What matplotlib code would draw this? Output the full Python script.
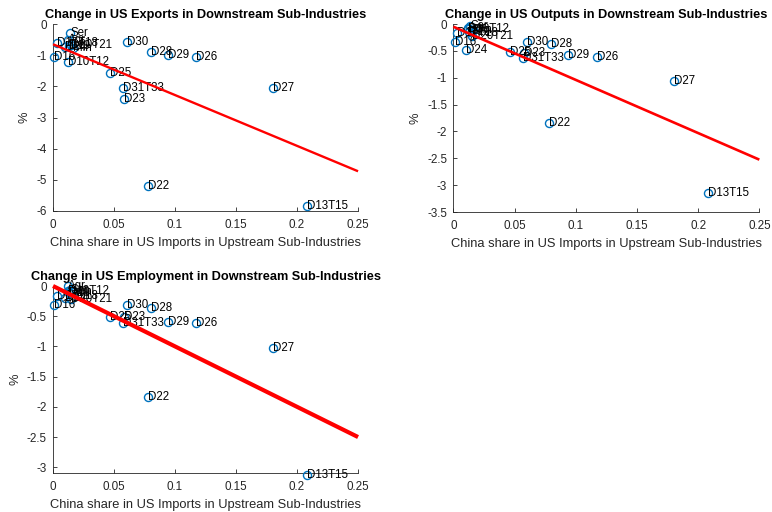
import numpy as np
import matplotlib
matplotlib.use("Agg")
import matplotlib.pyplot as plt
from matplotlib.ticker import FuncFormatter

plt.rcParams["font.family"] = ["Liberation Sans", "DejaVu Sans"]
plt.rcParams["axes.unicode_minus"] = False

# Sub-industry labels and China's share in US imports of their upstream inputs
labels = ["Agr", "Min", "Ser", "D10T12", "D13T15", "D16", "D17T18", "D19",
          "D20T21", "D22", "D23", "D24", "D25", "D26", "D27", "D28", "D29",
          "D30", "D31T33"]
china_share = [0.012, 0.016, 0.014, 0.012, 0.208, 0.001, 0.003, 0.013,
               0.015, 0.078, 0.058, 0.010, 0.0466, 0.117, 0.180, 0.080,
               0.094, 0.0603, 0.057]

# Percentage changes for the downstream sub-industries
exports_change = [-0.52, -0.78, -0.30, -1.22, -5.83, -1.07, -0.62, -0.70,
                  -0.68, -5.21, -2.42, -0.75, -1.58, -1.05, -2.04, -0.91,
                  -0.99, -0.59, -2.04]
outputs_change = [-0.07, -0.12, -0.03, -0.10, -3.15, -0.34, -0.17, -0.14,
                  -0.22, -1.84, -0.54, -0.48, -0.53, -0.61, -1.06, -0.38,
                  -0.58, -0.34, -0.64]
employment_change = [0.00, -0.10, -0.06, -0.08, -3.12, -0.31, -0.16, -0.12,
                     -0.22, -1.84, -0.52, -0.20, -0.51, -0.62, -1.03, -0.36,
                     -0.60, -0.31, -0.61]

# Fitted lines: (intercept, slope)
exports_fit = (-0.65, -16.3)
outputs_fit = (-0.05, -9.9)
employment_fit = (0.0, -10.0)

fit_x = [0.0, 0.25]

xticks = [0, 0.05, 0.1, 0.15, 0.2, 0.25]

panels = [
    dict(title="Change in US Exports in Downstream Sub-Industries",
         y=exports_change, fit=exports_fit, ylim=(-6, 0),
         yticks=[0, -1, -2, -3, -4, -5, -6], lw=1.7,
         rect=[0.0687, 0.5879, 0.3951, 0.3652]),
    dict(title="Change in US Outputs in Downstream Sub-Industries",
         y=outputs_change, fit=outputs_fit, ylim=(-3.5, 0),
         yticks=[0, -0.5, -1, -1.5, -2, -2.5, -3, -3.5], lw=1.9,
         rect=[0.5872, 0.5859, 0.3964, 0.3672]),
    dict(title="Change in US Employment in Downstream Sub-Industries",
         y=employment_change, fit=employment_fit, ylim=(-3.1, 0),
         yticks=[0, -0.5, -1, -1.5, -2, -2.5, -3], lw=3.0,
         rect=[0.0687, 0.0756, 0.3951, 0.3658]),
]

fig = plt.figure(figsize=(7.72, 5.12), dpi=100)
axis_color = "#262626"
marker_color = "#0072BD"

for p in panels:
    ax = fig.add_axes(p["rect"])
    ax.plot(china_share, p["y"], linestyle="none", marker="o",
            markersize=5.8, markerfacecolor="none",
            markeredgecolor=marker_color, markeredgewidth=1.0,
            clip_on=False, zorder=3)
    for lab, xv, yv in zip(labels, china_share, p["y"]):
        ax.text(xv, yv, lab, ha="left", va="center", fontsize=8.3,
                color="black", zorder=4, clip_on=False)
    b0, b1 = p["fit"]
    fy = [b0 + b1 * xx for xx in fit_x]
    ax.plot(fit_x, fy, color="red", linewidth=p["lw"], zorder=5,
            solid_capstyle="butt", clip_on=False)

    ax.set_xlim(0, 0.25)
    ax.set_ylim(*p["ylim"])
    ax.set_xticks(xticks)
    ax.set_yticks(p["yticks"])
    fmt = FuncFormatter(lambda v, pos: "%g" % v)
    ax.xaxis.set_major_formatter(fmt)
    ax.yaxis.set_major_formatter(fmt)
    for s in ("top", "right"):
        ax.spines[s].set_visible(False)
    for s in ("left", "bottom"):
        ax.spines[s].set_color(axis_color)
        ax.spines[s].set_linewidth(0.6)
    ax.tick_params(direction="in", length=3, width=0.6, colors=axis_color,
                   labelsize=8.4)
    ax.tick_params(axis="x", pad=5.5)
    ax.tick_params(axis="y", pad=4.5)
    ax.set_xlabel("China share in US Imports in Upstream Sub-Industries",
                  fontsize=9.3, color=axis_color, labelpad=4.5)
    ax.set_ylabel("%", fontsize=9.3, color=axis_color, labelpad=4)
    ax.set_title(p["title"], fontsize=9.2, fontweight="bold", pad=4)

fig.savefig("out.png", dpi=100)
